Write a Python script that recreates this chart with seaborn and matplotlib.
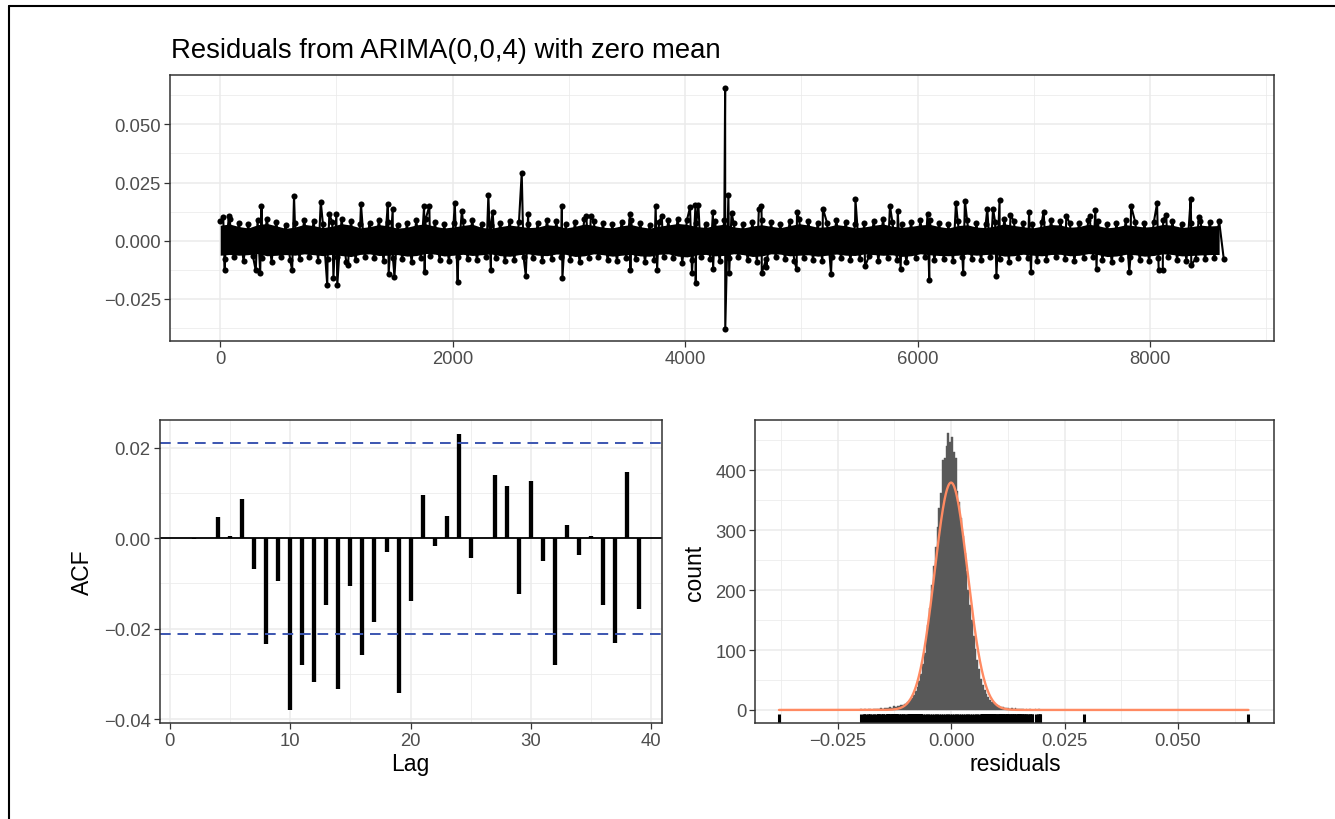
import numpy as np
import pandas as pd
import matplotlib
matplotlib.use("Agg")
import matplotlib.pyplot as plt
import seaborn as sns
from matplotlib.ticker import FuncFormatter
from matplotlib.lines import Line2D

# ---------------- data ----------------
n_obs = 8635
title = "Residuals from ARIMA(0,0,4) with zero mean"

# upper / lower envelope of the dense residual band (evenly spaced along time)
band_hi = [0.0085, 0.0092, 0.0078, 0.0070, 0.0088, 0.0095, 0.0082, 0.0068, 0.0075, 0.0090,
           0.0083, 0.0072, 0.0080, 0.0094, 0.0086, 0.0071, 0.0077, 0.0089, 0.0081, 0.0069,
           0.0074, 0.0087, 0.0093, 0.0079, 0.0070, 0.0076, 0.0084, 0.0091, 0.0073, 0.0068,
           0.0078, 0.0086, 0.0080, 0.0072, 0.0075, 0.0088, 0.0083, 0.0070, 0.0079, 0.0092,
           0.0085, 0.0074, 0.0071, 0.0082, 0.0089, 0.0077, 0.0069, 0.0080, 0.0087, 0.0095,
           0.0090, 0.0078, 0.0073, 0.0084, 0.0091, 0.0076, 0.0070, 0.0081, 0.0088, 0.0079,
           0.0072, 0.0083, 0.0094, 0.0086, 0.0074, 0.0077, 0.0089, 0.0082, 0.0071, 0.0076,
           0.0085, 0.0092, 0.0080, 0.0073, 0.0079, 0.0087, 0.0090, 0.0078, 0.0070, 0.0083,
           0.0088, 0.0075, 0.0072, 0.0081, 0.0093, 0.0084, 0.0077, 0.0070, 0.0080, 0.0089,
           0.0086, 0.0074, 0.0078, 0.0091, 0.0083, 0.0071, 0.0076, 0.0088, 0.0082, 0.0075,
           0.0079, 0.0090, 0.0085, 0.0073, 0.0077, 0.0086, 0.0081, 0.0084]
band_lo = [-0.0080, -0.0072, -0.0088, -0.0066, -0.0075, -0.0091, -0.0070, -0.0083, -0.0077, -0.0068,
           -0.0086, -0.0079, -0.0071, -0.0093, -0.0082, -0.0069, -0.0076, -0.0087, -0.0073, -0.0080,
           -0.0090, -0.0074, -0.0067, -0.0081, -0.0088, -0.0072, -0.0078, -0.0085, -0.0070, -0.0076,
           -0.0089, -0.0083, -0.0071, -0.0074, -0.0086, -0.0079, -0.0068, -0.0082, -0.0092, -0.0075,
           -0.0070, -0.0084, -0.0087, -0.0073, -0.0078, -0.0090, -0.0081, -0.0069, -0.0076, -0.0094,
           -0.0085, -0.0072, -0.0079, -0.0088, -0.0074, -0.0070, -0.0083, -0.0091, -0.0077, -0.0068,
           -0.0080, -0.0087, -0.0073, -0.0082, -0.0089, -0.0071, -0.0076, -0.0084, -0.0079, -0.0067,
           -0.0086, -0.0075, -0.0081, -0.0092, -0.0074, -0.0070, -0.0085, -0.0078, -0.0088, -0.0072,
           -0.0077, -0.0083, -0.0069, -0.0080, -0.0090, -0.0076, -0.0073, -0.0086, -0.0081, -0.0071,
           -0.0079, -0.0087, -0.0074, -0.0068, -0.0084, -0.0091, -0.0078, -0.0072, -0.0083, -0.0088,
           -0.0075, -0.0070, -0.0082, -0.0086, -0.0077, -0.0080, -0.0073, -0.0079]

# individual spikes sticking out of the band (time index, residual)
spike_t = [27, 40, 76, 307, 345, 356, 620, 636, 866, 922, 940, 975, 1000, 1008, 1100,
           1212, 1443, 1450, 1485, 1500, 1755, 1760, 1800, 2019, 2044, 2080, 2308, 2330,
           2345, 2595, 2630, 2650, 2940, 2945, 3150, 3190, 3526, 3530, 3747, 3760, 3800,
           4043, 4060, 4090, 4092, 4115, 4240, 4241, 4345, 4346, 4373, 4380, 4400, 4635,
           4657, 4660, 4700, 4960, 4963, 5186, 5256, 5466, 5548, 5763, 5830, 5855, 6086,
           6101, 6331, 6393, 6408, 6600, 6650, 6679, 6706, 6800, 6960, 6976, 7085, 7280,
           7480, 7530, 7540, 7822, 7837, 8061, 8075, 8110, 8140, 8350, 8355, 8420]
spike_v = [0.0100, -0.0124, 0.0107, -0.0128, -0.0138, 0.0150, -0.0128, 0.0192, 0.0168, -0.0192,
           0.0114, -0.0160, 0.0114, -0.0192, -0.0105,
           0.0157, 0.0157, -0.0142, 0.0135, -0.0154, 0.0150, -0.0135, 0.0148, 0.0160, -0.0178,
           0.0128, 0.0197, -0.0128,
           0.0122, 0.0292, -0.0150, 0.0114, 0.0150, -0.0160, 0.0107, 0.0107, 0.0114, -0.0124,
           0.0150, -0.0125, 0.0105,
           0.0143, -0.0140, 0.0152, -0.0182, 0.0152, 0.0124, -0.0120, 0.0655, -0.0379, 0.0197,
           -0.0138, 0.0120, 0.0135,
           0.0147, -0.0138, -0.0114, -0.0121, 0.0124, 0.0138, -0.0142, 0.0178, -0.0110, 0.0150,
           0.0128, -0.0121, 0.0114,
           -0.0171, 0.0164, -0.0138, 0.0171, 0.0138, 0.0138, -0.0150, 0.0174, 0.0112, 0.0124,
           -0.0133, 0.0124, 0.0107,
           0.0107, 0.0133, -0.0121, -0.0133, 0.0150, 0.0160, -0.0128, -0.0128, 0.0110, 0.0178,
           -0.0104, 0.0102]

# ACF
acf_lags = list(range(1, 40))
acf_vals = [0.0001, -0.0002, 0.0001, 0.0048, 0.0004, 0.0087, -0.0068, -0.0234, -0.0095, -0.0380,
            -0.0280, -0.0317, -0.0147, -0.0334, -0.0106, -0.0257, -0.0185, -0.0031, -0.0341, -0.0138,
            0.0095, -0.0018, 0.0050, 0.0230, -0.0044, 0.0000, 0.0139, 0.0115, -0.0124, 0.0127,
            -0.0051, -0.0280, 0.0029, -0.0038, 0.0005, -0.0148, -0.0232, 0.0147, -0.0156]
ci_bound = 0.0211

# histogram
hist_left = -0.0200
hist_binwidth = 0.0004
hist_counts = [1, 0, 1, 0, 1, 1, 0, 2, 1, 2,
               1, 3, 2, 3, 4, 3, 5, 4, 6, 5,
               7, 6, 8, 9, 10, 12, 14, 16, 20, 25,
               31, 39, 48, 60, 76, 95, 116, 142, 170, 208,
               240, 272, 305, 338, 362, 418, 420, 440, 462, 448,
               455, 430, 420, 365, 348, 320, 290, 262, 232, 200,
               176, 150, 124, 102, 84, 68, 52, 41, 33, 26,
               21, 16, 14, 11, 9, 8, 6, 5, 5, 4,
               3, 4, 2, 3, 2, 3, 1, 2, 1, 1,
               0, 1, 0, 1, 0, 0, 1, 0, 1, 0]
resid_sd = 0.00363
resid_min, resid_max = -0.0379, 0.0655

# ---------------- style ----------------
sns.set_style("white")
plt.rcParams["font.family"] = ["Liberation Sans", "DejaVu Sans"]
plt.rcParams["axes.unicode_minus"] = True

W, H = 1335, 820
fig = plt.figure(figsize=(W / 100, H / 100), dpi=100)

def px_axes(x0, y0, x1, y1):
    return fig.add_axes([x0 / W, 1 - y1 / H, (x1 - x0) / W, (y1 - y0) / H])

ax_ts = px_axes(170, 76, 1274, 342)
ax_acf = px_axes(159.6, 420.7, 661.8, 724.3)
ax_h = px_axes(755.4, 420.7, 1274.3, 724.3)

GRID = "#EBEBEB"
DARK = "#333333"
TXT = "#4D4D4D"
TICK_FS = 13.3
LAB_FS = 16.5

def style(ax):
    ax.set_axisbelow(True)
    ax.grid(which="major", color=GRID, lw=1.1)
    ax.grid(which="minor", color=GRID, lw=0.55)
    for s in ax.spines.values():
        s.set_color(DARK)
        s.set_linewidth(1.1)
        s.set_visible(True)
    ax.tick_params(which="major", length=4, width=0.9, color=DARK, labelcolor=TXT,
                   labelsize=TICK_FS, pad=2.5, bottom=True, left=True)
    ax.tick_params(which="minor", length=0)

def mfmt(dec):
    return FuncFormatter(lambda v, p: f"{v:.{dec}f}".replace("-", "\u2212"))

# ---------------- top: residual series ----------------
hi = np.array(band_hi)
lo = np.array(band_lo)
t_hi = np.linspace(1, n_obs - 40, len(hi))
t_lo = np.linspace(1, n_obs - 40, len(lo)) + 40
ts_t = np.concatenate([t_hi, t_lo, np.array(spike_t, float)])
ts_v = np.concatenate([hi, lo, np.array(spike_v)])
order = np.argsort(ts_t, kind="stable")
ts_t, ts_v = ts_t[order], ts_v[order]
ts_df = pd.DataFrame({"t": ts_t, "resid": ts_v})

ax_ts.fill_between(t_hi, hi * 0.78, np.interp(t_hi, t_lo, lo) * 0.78, color="black", lw=0)
sns.lineplot(data=ts_df, x="t", y="resid", ax=ax_ts, color="black", lw=1.5, sort=False,
             marker="o", markersize=4.4, markeredgewidth=0, estimator=None)
style(ax_ts)
ax_ts.set_xlim(-431, 9067)
ax_ts.set_ylim(-0.0431, 0.0712)
ax_ts.set_xticks([0, 2000, 4000, 6000, 8000])
ax_ts.set_xticks([1000, 3000, 5000, 7000, 9000], minor=True)
ax_ts.set_yticks([-0.025, 0.0, 0.025, 0.05])
ax_ts.set_yticks([-0.0375, -0.0125, 0.0125, 0.0375, 0.0625], minor=True)
ax_ts.xaxis.set_major_formatter(FuncFormatter(lambda v, p: f"{int(v)}"))
ax_ts.yaxis.set_major_formatter(mfmt(3))
ax_ts.set_xlabel("")
ax_ts.set_ylabel("")

fig.text(171 / W, 1 - 58 / H, title, ha="left", va="baseline", fontsize=19.8, color="black")

# ---------------- ACF ----------------
ax_acf.vlines(acf_lags, 0, acf_vals, color="black", lw=3.1)
ax_acf.axhline(0, color="black", lw=1.3)
for b in (ci_bound, -ci_bound):
    ax_acf.axhline(b, color="#3B55B0", lw=1.4, ls=(0, (5.5, 3.5)))
style(ax_acf)
ax_acf.set_xlim(-0.85, 40.87)
ax_acf.set_ylim(-0.0409, 0.0262)
ax_acf.set_xticks([0, 10, 20, 30, 40])
ax_acf.set_xticks([5, 15, 25, 35], minor=True)
ax_acf.set_yticks([-0.04, -0.02, 0.0, 0.02])
ax_acf.set_yticks([-0.03, -0.01, 0.01], minor=True)
ax_acf.yaxis.set_major_formatter(mfmt(2))
ax_acf.set_xlabel("Lag", fontsize=LAB_FS, color="black")
ax_acf.set_ylabel("ACF", fontsize=LAB_FS, color="black")
ax_acf.xaxis.set_label_coords(0.5, -0.094)
ax_acf.yaxis.set_label_coords(-0.13, 0.5)

# ---------------- histogram ----------------
counts = np.array(hist_counts, float)
edges = hist_left + hist_binwidth * np.arange(len(counts) + 1)
centers = (edges[:-1] + edges[1:]) / 2
hist_df = pd.DataFrame({"residuals": centers, "n": counts})
sns.histplot(data=hist_df, x="residuals", weights="n", bins=list(edges), ax=ax_h,
             color="#595959", alpha=1, edgecolor="#595959", linewidth=0.3)
xs = np.linspace(resid_min, resid_max, 800)
ys = n_obs * hist_binwidth * np.exp(-0.5 * (xs / resid_sd) ** 2) / (resid_sd * np.sqrt(2 * np.pi))
sns.lineplot(x=xs, y=ys, ax=ax_h, color="#ff8a62", lw=1.7)
rug_vals = np.concatenate([ts_v, centers[counts > 0]])
sns.rugplot(x=rug_vals, ax=ax_h, height=0.03, color="black", linewidth=2.2, expand_margins=False)
style(ax_h)
ax_h.set_xlim(-0.0431, 0.0712)
ax_h.set_ylim(-22.3, 484.6)
ax_h.set_xticks([-0.025, 0.0, 0.025, 0.05])
ax_h.set_xticks([-0.0375, -0.0125, 0.0125, 0.0375, 0.0625], minor=True)
ax_h.set_yticks([0, 100, 200, 300, 400])
ax_h.set_yticks([50, 150, 250, 350, 450], minor=True)
ax_h.xaxis.set_major_formatter(mfmt(3))
ax_h.yaxis.set_major_formatter(FuncFormatter(lambda v, p: f"{int(v)}"))
ax_h.set_xlabel("residuals", fontsize=LAB_FS, color="black")
ax_h.set_ylabel("count", fontsize=LAB_FS, color="black")
ax_h.xaxis.set_label_coords(0.5, -0.094)
ax_h.yaxis.set_label_coords(-0.095, 0.5)

# figure frame (left and top edges visible in the reference)
fig.add_artist(Line2D([9 / W, 9 / W], [0, 1 - 7 / H], transform=fig.transFigure, color="black", lw=1.5))
fig.add_artist(Line2D([9 / W, 1], [1 - 7 / H, 1 - 7 / H], transform=fig.transFigure, color="black", lw=1.5))

fig.savefig("out.png", dpi=100)
